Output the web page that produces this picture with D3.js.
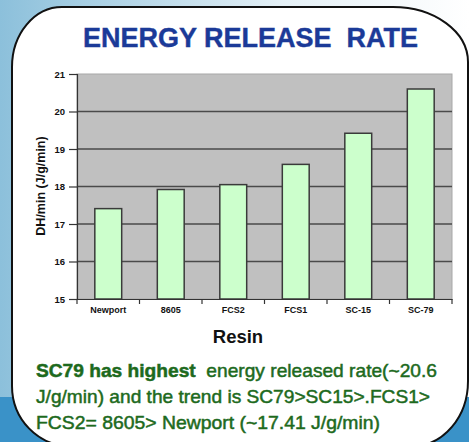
<!DOCTYPE html>
<html>

<head>
	<meta charset="utf-8">
	<script src="https://d3js.org/d3.v7.min.js"></script>
	<style>
		body {
			margin: 0;
			font-family: 'Liberation Sans', Arial, sans-serif;
		}

		text {
			font-family: 'Liberation Sans', Arial, sans-serif;
		}
	</style>
</head>

<body>
	<div id="chart"></div>

	<script>
		// values
		var resins = ["Newport", "8605", "FCS2", "FCS1", "SC-15", "SC-79"];
		var energyRate = [17.41, 17.92, 18.05, 18.59, 19.42, 20.6];
		var yTicks = [15, 16, 17, 18, 19, 20, 21];

		var W = 469, H = 442;
		var plot = { left: 77, right: 452, top: 74, bottom: 299 };

		var svg = d3.select("#chart")
			.append("svg")
			.attr("width", W)
			.attr("height", H);

		// slide background
		var defs = svg.append("defs");
		var bgGrad = defs.append("linearGradient")
			.attr("id", "bgGrad")
			.attr("x1", "0%").attr("y1", "0%")
			.attr("x2", "100%").attr("y2", "0%");
		bgGrad.append("stop").attr("offset", "0%").attr("stop-color", "#8cc0db");
		bgGrad.append("stop").attr("offset", "60%").attr("stop-color", "#e4f0f6");
		bgGrad.append("stop").attr("offset", "100%").attr("stop-color", "#ffffff");

		svg.append("rect")
			.attr("width", W).attr("height", H)
			.attr("fill", "url(#bgGrad)");
		svg.append("rect")
			.attr("x", 0).attr("y", 397)
			.attr("width", W).attr("height", H - 397)
			.attr("fill", "#3a92c8");

		// white rounded card
		var cx0 = 12, cy0 = 7, cx1 = 468, cy1 = 446;
		var card = "M" + cx0 + "," + (cy0 + 60)
			+ " A50,60 0 0 1 " + (cx0 + 50) + "," + cy0
			+ " L" + (cx1 - 75) + "," + cy0
			+ " A75,55 0 0 1 " + cx1 + "," + (cy0 + 55)
			+ " L" + cx1 + "," + (cy1 - 65)
			+ " A55,65 0 0 1 " + (cx1 - 55) + "," + cy1
			+ " L" + (cx0 + 58) + "," + cy1
			+ " A58,60 0 0 1 " + cx0 + "," + (cy1 - 60)
			+ " Z";
		svg.append("path")
			.attr("d", card)
			.attr("fill", "#ffffff")
			.attr("stroke", "#111")
			.attr("stroke-width", 2);

		// title
		svg.append("text")
			.attr("x", 83)
			.attr("y", 47)
			.attr("textLength", 335)
			.attr("lengthAdjust", "spacingAndGlyphs")
			.style("font-size", "27px")
			.style("font-weight", "bold")
			.style("fill", "#1b3a98")
			.style("stroke", "#1b3a98")
			.style("stroke-width", 0.4)
			.style("white-space", "pre")
			.text("ENERGY RELEASE  RATE");

		var x = d3.scaleBand()
			.domain(resins)
			.range([plot.left, plot.right])
			.paddingInner(0.57)
			.paddingOuter(0.285);

		var y = d3.scaleLinear()
			.domain([15, 21])
			.range([plot.bottom, plot.top]);

		// plot area
		svg.append("rect")
			.attr("x", plot.left)
			.attr("y", plot.top)
			.attr("width", plot.right - plot.left)
			.attr("height", plot.bottom - plot.top)
			.attr("fill", "#c0c0c0")
			.attr("stroke", "#a8a8a8")
			.attr("stroke-width", 1);

		svg.selectAll(".grid")
			.data(yTicks.slice(1, -1))
			.enter().append("line")
			.attr("x1", plot.left)
			.attr("x2", plot.right)
			.attr("y1", function (d) { return y(d); })
			.attr("y2", function (d) { return y(d); })
			.attr("stroke", "#4a4a4a")
			.attr("stroke-width", 1.3);

		svg.selectAll(".bar")
			.data(energyRate)
			.enter().append("rect")
			.attr("x", function (d, i) { return x(resins[i]); })
			.attr("y", function (d) { return y(d); })
			.attr("width", x.bandwidth())
			.attr("height", function (d) { return y(15) - y(d); })
			.attr("fill", "#ccffcc")
			.attr("stroke", "#3a3a3a")
			.attr("stroke-width", 1.5);

		// axes
		var yAxis = svg.append("g")
			.attr("transform", "translate(" + plot.left + ",0)")
			.call(d3.axisLeft(y).tickValues(yTicks).tickSize(8).tickPadding(4).tickFormat(d3.format("d")));
		yAxis.select(".domain").attr("stroke", "#333").attr("stroke-width", 1.2);
		yAxis.selectAll(".tick line").attr("stroke", "#333").attr("stroke-width", 1.2);
		yAxis.selectAll("text")
			.style("font-size", "9.5px")
			.style("font-weight", "bold")
			.style("fill", "#111");

		var xAxis = svg.append("g")
			.attr("transform", "translate(0," + plot.bottom + ")")
			.call(d3.axisBottom(x).tickSize(0).tickPadding(8));
		xAxis.select(".domain").attr("stroke", "#333").attr("stroke-width", 1.2);
		xAxis.selectAll("text")
			.style("font-size", "9px")
			.style("font-weight", "bold")
			.style("fill", "#111");

		// ticks between categories
		var step = x.step();
		svg.selectAll(".xtick")
			.data(d3.range(resins.length + 1))
			.enter().append("line")
			.attr("x1", function (d) { return plot.left + d * step; })
			.attr("x2", function (d) { return plot.left + d * step; })
			.attr("y1", plot.bottom)
			.attr("y2", plot.bottom + 5)
			.attr("stroke", "#333")
			.attr("stroke-width", 1.2);

		svg.append("text")
			.attr("x", 238)
			.attr("y", 343)
			.style("text-anchor", "middle")
			.style("font-size", "18.5px")
			.style("font-weight", "bold")
			.style("fill", "#111")
			.text("Resin");

		svg.append("text")
			.attr("transform", "translate(45,186) rotate(-90)")
			.style("text-anchor", "middle")
			.style("font-size", "12.5px")
			.style("font-weight", "bold")
			.style("fill", "#111")
			.text("DH/min (J/g/min)");

		// note under the chart
		var note = svg.append("g")
			.style("font-size", "19px")
			.style("fill", "#1d6a1d")
			.style("stroke", "#1d6a1d")
			.style("stroke-width", 0.5);

		var line1 = note.append("text")
			.attr("x", 36)
			.attr("y", 377)
			.attr("textLength", 401)
			.attr("lengthAdjust", "spacingAndGlyphs")
			.style("white-space", "pre");
		line1.append("tspan").style("font-weight", "bold").text("SC79 has highest");
		line1.append("tspan").text("  energy released rate(~20.6");

		note.append("text")
			.attr("x", 36)
			.attr("y", 403)
			.attr("textLength", 394)
			.attr("lengthAdjust", "spacingAndGlyphs")
			.text("J/g/min) and the trend is SC79>SC15>.FCS1>");

		note.append("text")
			.attr("x", 36)
			.attr("y", 429)
			.attr("textLength", 344)
			.attr("lengthAdjust", "spacingAndGlyphs")
			.text("FCS2= 8605> Newport (~17.41 J/g/min)");
	</script>
</body>

</html>
